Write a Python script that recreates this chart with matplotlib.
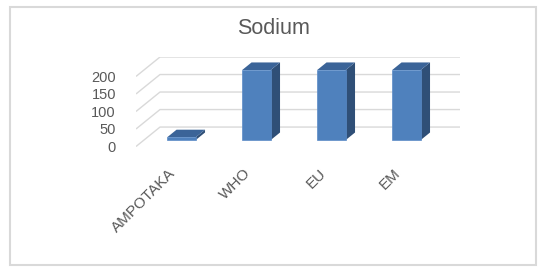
import matplotlib
matplotlib.use("Agg")
import matplotlib.pyplot as plt
from matplotlib.patches import Polygon, Rectangle
from matplotlib.transforms import ScaledTranslation

# data
categories = ["AMPOTAKA", "WHO", "EU", "EM"]
sodium = [8, 200, 200, 200]
y_ticks = [0, 50, 100, 150, 200]

# fake 3d: depth shift of the whole floor in data units
DX = 0.32
DY = 55.5
d_front, d_back = 0.33, 0.72
bar_w = 0.38

plt.rcParams['font.family'] = ['Liberation Sans', 'DejaVu Sans']
grey_txt = '#595959'
grid_col = '#D9D9D9'

fig = plt.figure(figsize=(5.52, 2.76), dpi=100)
fig.patch.set_facecolor('white')

# chart border
fig.patches.append(Rectangle((10 / 552, 1 - 265 / 276), 526 / 552, 258 / 276,
                             transform=fig.transFigure, fill=False,
                             edgecolor=grid_col, linewidth=1.5))

fig.text(274 / 552, 1 - 34 / 276, "Sodium", ha='center', va='baseline',
         fontsize=15.5, color=grey_txt)

ax = fig.add_axes([136 / 552, 129.5 / 276, 324 / 552, 89.5 / 276])
ax.set_xlim(-0.5, len(categories) - 0.5 + DX)
ax.set_ylim(0, max(y_ticks) + DY)
for s in ax.spines.values():
    s.set_visible(False)

# gridlines: side diagonal + back wall
x0 = -0.5
x1 = len(categories) - 0.5
for v in y_ticks:
    ax.plot([x0, x0 + DX, x1 + DX], [v, v + DY, v + DY], color=grid_col,
            linewidth=1.0, zorder=1, solid_capstyle='butt')

# bars
front_c = '#4F81BD'
top_c = '#3B6498'
side_c = '#2F4F77'
for i, v in enumerate(sodium):
    xl = i - bar_w / 2 + DX * d_front
    xr = i + bar_w / 2 + DX * d_front
    yb = DY * d_front
    yt = v + DY * d_front
    ddx = DX * (d_back - d_front)
    ddy = DY * (d_back - d_front)
    ax.add_patch(Polygon([(xr, yb), (xr + ddx, yb + ddy), (xr + ddx, yt + ddy), (xr, yt)],
                         closed=True, facecolor=side_c, edgecolor='none', zorder=3))
    ax.add_patch(Polygon([(xl, yt), (xr, yt), (xr + ddx, yt + ddy), (xl + ddx, yt + ddy)],
                         closed=True, facecolor=top_c, edgecolor='none', zorder=3))
    ax.add_patch(Rectangle((xl, yb), xr - xl, yt - yb, facecolor=front_c,
                           edgecolor='#5B8BC7', linewidth=0.5, zorder=4))

ax.set_yticks(y_ticks)
ax.set_yticklabels([str(t) for t in y_ticks])
ax.set_xticks(range(len(categories)))
ax.set_xticklabels(categories, rotation=45, ha='right')
ax.tick_params(axis='y', length=0, pad=14.4, labelsize=10.5, labelcolor=grey_txt)
ax.tick_params(axis='x', length=0, pad=17, labelsize=11, labelcolor=grey_txt)
# nudge the slanted labels right/up like the original
shift = ScaledTranslation(5 / 100, 4 / 100, fig.dpi_scale_trans)
for lab in ax.get_xticklabels():
    lab.set_transform(lab.get_transform() + shift)

fig.savefig("out.png", dpi=100)
